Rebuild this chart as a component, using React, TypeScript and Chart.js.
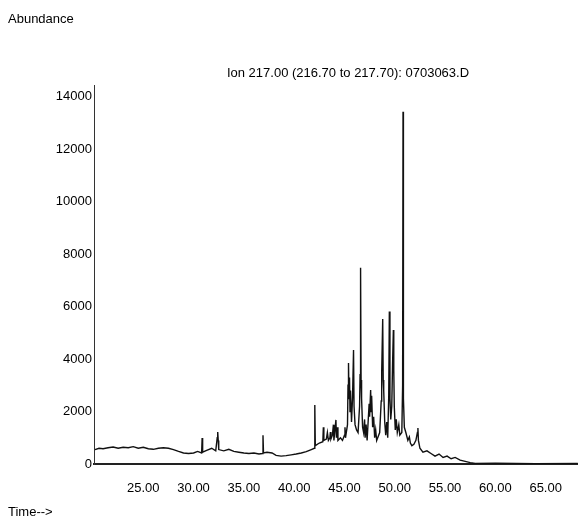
import React, { useEffect, useRef } from "react";
import { Chart, registerables } from "chart.js";

Chart.register(...registerables);

// Retention time (min) and abundance of the ion 217 trace
const times: number[] = [
  20.2, 20.6, 21.0, 21.5, 22.0, 22.5, 23.0, 23.5, 24.0, 24.5, 25.0, 25.5, 26.0, 26.5, 27.0, 27.5,
  28.0, 28.5, 29.0, 29.5, 30.0, 30.4, 30.8, 30.85, 30.9, 31.3, 31.8, 32.2, 32.35, 32.4, 32.45, 32.5,
  33.0, 33.5, 34.0, 34.5, 35.0, 35.5, 36.0, 36.5, 36.85, 36.9, 36.95, 37.3, 37.8, 38.2, 38.7, 39.2,
  39.7, 40.2, 40.7, 41.2, 41.7, 42.0, 42.05, 42.1, 42.5, 42.85, 42.9, 42.95, 43.2, 43.3, 43.4, 43.55,
  43.6, 43.65, 43.8, 43.9, 43.95, 44.05, 44.15, 44.2, 44.3, 44.35, 44.6, 44.8, 45.0, 45.05, 45.1, 45.3,
  45.35, 45.4, 45.45, 45.5, 45.55, 45.6, 45.7, 45.8, 45.9, 45.95, 46.05, 46.2, 46.35, 46.5, 46.55, 46.6,
  46.65, 46.7, 46.8, 46.9, 47.0, 47.05, 47.15, 47.25, 47.45, 47.5, 47.6, 47.65, 47.7, 47.8, 47.9, 48.0,
  48.1, 48.2, 48.5, 48.65, 48.7, 48.8, 48.85, 48.9, 49.0, 49.1, 49.2, 49.3, 49.4, 49.46, 49.52, 49.6,
  49.7, 49.78, 49.86, 49.9, 49.95, 50.05, 50.15, 50.25, 50.4, 50.5, 50.7, 50.78, 50.82, 50.86, 50.95, 51.1,
  51.3, 51.45, 51.55, 51.7, 51.9, 52.1, 52.25, 52.3, 52.35, 52.5, 52.8, 53.2, 53.6, 54.0, 54.4, 54.8,
  55.2, 55.6, 56.0, 56.5, 57.0, 57.5, 58.0, 60.0, 64.0, 68.2,
];

const abundance: number[] = [
  550, 600, 580, 620, 650, 600, 640, 620, 660, 600, 640, 580, 560, 600, 620, 600,
  550, 480, 420, 400, 420, 480, 420, 990, 450, 520, 600, 500, 1000, 1220, 900, 550,
  500, 560, 480, 450, 420, 400, 420, 380, 400, 1100, 420, 450, 420, 330, 300, 320,
  350, 380, 420, 470, 550, 600, 2250, 700, 800, 850, 1400, 900, 950, 1200, 900, 1000,
  1220, 950, 1100, 1500, 900, 1300, 1680, 1000, 1400, 900, 1000, 900, 1100, 1400, 1000, 1500,
  3000, 3850, 2500, 3300, 2000, 2800, 1600, 2500, 4350, 2200, 1500, 1300, 1200, 2200, 3400, 7480,
  3200, 2500, 1400, 1200, 1700, 1000, 1500, 900, 2300, 1800, 2820, 2000, 2600, 1400, 1800, 1000,
  1300, 900, 1200, 2400, 3500, 5530, 3200, 2800, 1600, 1100, 1600, 1000, 2600, 5810, 2500, 1700,
  2200, 3800, 5110, 3600, 2200, 1300, 1700, 1200, 1500, 1100, 1200, 3000, 13430, 2500, 1400, 1200,
  900, 1030, 800, 700, 750, 900, 1200, 1370, 900, 600, 450, 500, 400, 300, 380, 250,
  300, 200, 250, 150, 100, 50, 20, 30, 10, 20,
];

const yTicks: number[] = [0, 2000, 4000, 6000, 8000, 10000, 12000, 14000];
const xTicks: number[] = [25, 30, 35, 40, 45, 50, 55, 60, 65];
const titleText = "Ion 217.00 (216.70 to 217.70): 0703063.D";
const yLabelText = "Abundance";
const xLabelText = "Time-->";

const FONT = "'Liberation Sans', Arial, sans-serif";

const textPlugin = {
  id: "chromTexts",
  afterDraw(chart: any) {
    const ctx = chart.ctx;
    ctx.save();
    ctx.fillStyle = "#000";
    ctx.font = `13px ${FONT}`;
    ctx.textBaseline = "middle";
    ctx.textAlign = "left";
    ctx.fillText(yLabelText, 8, 19);
    ctx.fillText(xLabelText, 8, 512);
    ctx.textAlign = "center";
    ctx.fillText(titleText, 348, 73);
    ctx.restore();
  },
};

export default function App() {
  const ref = useRef<HTMLCanvasElement | null>(null);

  useEffect(() => {
    if (!ref.current) return;
    const points = times.map((t, i) => ({ x: t, y: abundance[i] }));
    const chart = new Chart(ref.current, {
      type: "line",
      data: {
        datasets: [
          {
            data: points,
            borderColor: "#111",
            borderWidth: 1.4,
            pointRadius: 0,
            tension: 0,
            fill: false,
          },
        ],
      },
      options: {
        animation: false,
        responsive: true,
        maintainAspectRatio: false,
        layout: { padding: { top: 85, right: 1, left: 0, bottom: 0 } },
        plugins: {
          legend: { display: false },
          tooltip: { enabled: false },
          title: { display: false },
        },
        scales: {
          x: {
            type: "linear",
            min: 20.1,
            max: 68.2,
            grid: { display: false, drawTicks: false },
            border: { display: true, color: "#222", width: 2, dash: [4, 1] },
            afterBuildTicks: (s: any) => {
              s.ticks = xTicks.map((v) => ({ value: v }));
            },
            afterFit: (s: any) => {
              s.height = 57;
            },
            ticks: {
              padding: 17,
              autoSkip: false,
              maxRotation: 0,
              color: "#000",
              font: { family: FONT, size: 13 },
              callback: (v: any) => Number(v).toFixed(2),
            },
          },
          y: {
            type: "linear",
            min: 0,
            max: 14450,
            grid: { display: false, drawTicks: false },
            border: { display: true, color: "#333", width: 1 },
            afterBuildTicks: (s: any) => {
              s.ticks = yTicks.map((v) => ({ value: v }));
            },
            afterFit: (s: any) => {
              s.width = 94;
            },
            ticks: {
              padding: 2,
              autoSkip: false,
              color: "#000",
              font: { family: FONT, size: 13 },
              callback: (v: any) => String(v),
            },
          },
        },
      },
      plugins: [textPlugin],
    });
    return () => chart.destroy();
  }, []);

  return (
    <div style={{ position: "absolute", left: 0, top: 0, width: 579, height: 521, background: "#fff" }}>
      <canvas ref={ref} />
    </div>
  );
}
